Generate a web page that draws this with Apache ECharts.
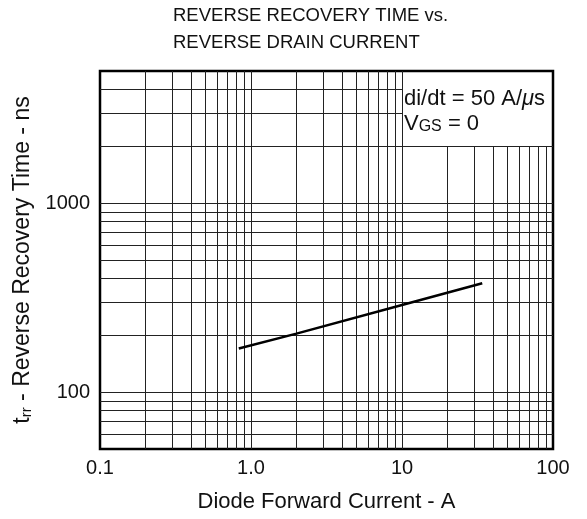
<!DOCTYPE html>
<html>
<head>
<meta charset="utf-8">
<script src="https://cdn.jsdelivr.net/npm/echarts@6/dist/echarts.min.js"></script>
<style>html,body{margin:0;padding:0;background:#fff}#c{width:587px;height:519px}</style>
</head>
<body>
<div id="c"></div>
<script>
// ---- data ----
const currents = [0.83, 2, 10, 34];            // Diode forward current, A
const trrValues = [170, 204, 289, 377];        // Reverse recovery time, ns
const xTickValues = [0.1, 1, 10, 100];
const xTickLabels = ['0.1', '1.0', '10', '100'];
const yTickValues = [100, 1000];
const yTickLabels = ['100', '1000'];
const xGridValues = [0.2,0.3,0.4,0.5,0.6,0.7,0.8,0.9,1,2,3,4,5,6,7,8,9,10,20,30,40,50,60,70,80,90];
const yGridValues = [60,70,80,90,100,200,300,400,500,600,700,800,900,1000,2000,3000,4000];
const xRange = [0.1, 100];
const yRange = [50, 5000];
const noteCorner = [10, 2000]; // lower-left corner of the annotation box

// ---- build ----
const FONT = 'Liberation Sans, Arial, Helvetica, sans-serif';
const gridSegs = [];
xGridValues.forEach(function (x) {
  const top = x > noteCorner[0] ? noteCorner[1] : yRange[1];
  gridSegs.push([{coord: [x, yRange[0]]}, {coord: [x, top]}]);
});
yGridValues.forEach(function (y) {
  const right = y > noteCorner[1] ? noteCorner[0] : xRange[1];
  gridSegs.push([{coord: [xRange[0], y]}, {coord: [right, y]}]);
});
function findLabel(v, vals, labels) {
  for (let i = 0; i < vals.length; i++) {
    if (Math.abs(Math.log10(v) - Math.log10(vals[i])) < 1e-6) return labels[i];
  }
  return '';
}

const chart = echarts.init(document.getElementById('c'), null, {renderer: 'canvas'});
chart.setOption({
  animation: false,
  backgroundColor: '#fff',
  title: {
    text: 'REVERSE RECOVERY TIME vs.\nREVERSE DRAIN CURRENT',
    left: 173, top: 2, padding: 0,
    textStyle: {fontFamily: FONT, fontSize: 18.5, fontWeight: 'normal', color: '#111', lineHeight: 27}
  },
  grid: {left: 100, top: 71, width: 453, height: 378, show: true, borderColor: '#000', borderWidth: 2.5, backgroundColor: 'transparent'},
  xAxis: {
    type: 'log', logBase: 10, min: xRange[0], max: xRange[1],
    name: 'Diode Forward Current - A', nameLocation: 'middle', nameGap: 42,
    nameTextStyle: {fontFamily: FONT, fontSize: 22, color: '#111'},
    axisLine: {show: false}, axisTick: {show: false}, splitLine: {show: false},
    axisLabel: {
      margin: 9, fontFamily: FONT, fontSize: 20, color: '#111', showMinLabel: true, showMaxLabel: true,
      formatter: function (v) { return findLabel(v, xTickValues, xTickLabels); }
    }
  },
  yAxis: {
    type: 'log', logBase: 10, min: yRange[0], max: yRange[1],
    name: '{t|t}{s|rr}{t| - Reverse Recovery Time - ns}', nameLocation: 'middle', nameGap: 59, nameRotate: 90,
    nameTextStyle: {
      fontFamily: FONT, fontSize: 23, color: '#111',
      rich: {
        t: {fontFamily: FONT, fontSize: 23, color: '#111', lineHeight: 25, verticalAlign: 'bottom'},
        s: {fontFamily: FONT, fontSize: 15, color: '#111', lineHeight: 21, verticalAlign: 'bottom'}
      }
    },
    axisLine: {show: false}, axisTick: {show: false}, splitLine: {show: false},
    axisLabel: {
      margin: 10, fontFamily: FONT, fontSize: 20, color: '#111', showMinLabel: true, showMaxLabel: true,
      formatter: function (v) { return findLabel(v, yTickValues, yTickLabels); }
    }
  },
  graphic: [{
    type: 'text', left: 404, top: 88, z: 100,
    style: {
      text: '{n|di/dt = 50 A/}{i|μ}{n|s}\n{n|V}{g|GS}{n| = 0}',
      rich: {
        n: {fontFamily: FONT, fontSize: 22, fill: '#111', lineHeight: 25, verticalAlign: 'bottom'},
        i: {fontFamily: FONT, fontSize: 22, fontStyle: 'italic', fill: '#111', lineHeight: 25, verticalAlign: 'bottom'},
        g: {fontFamily: FONT, fontSize: 16, fill: '#111', lineHeight: 22, verticalAlign: 'bottom'}
      }
    }
  }],
  series: [
    {
      type: 'line', data: [], silent: true, z: 1,
      markLine: {
        silent: true, symbol: ['none', 'none'], animation: false,
        label: {show: false},
        lineStyle: {color: '#222', width: 1, type: 'solid'},
        emphasis: {disabled: true},
        data: gridSegs
      }
    },
    {
      type: 'line', z: 5,
      data: currents.map(function (c, i) { return [c, trrValues[i]]; }),
      showSymbol: false, symbol: 'none',
      lineStyle: {color: '#000', width: 2.5}
    }
  ]
});
</script>
</body>
</html>
